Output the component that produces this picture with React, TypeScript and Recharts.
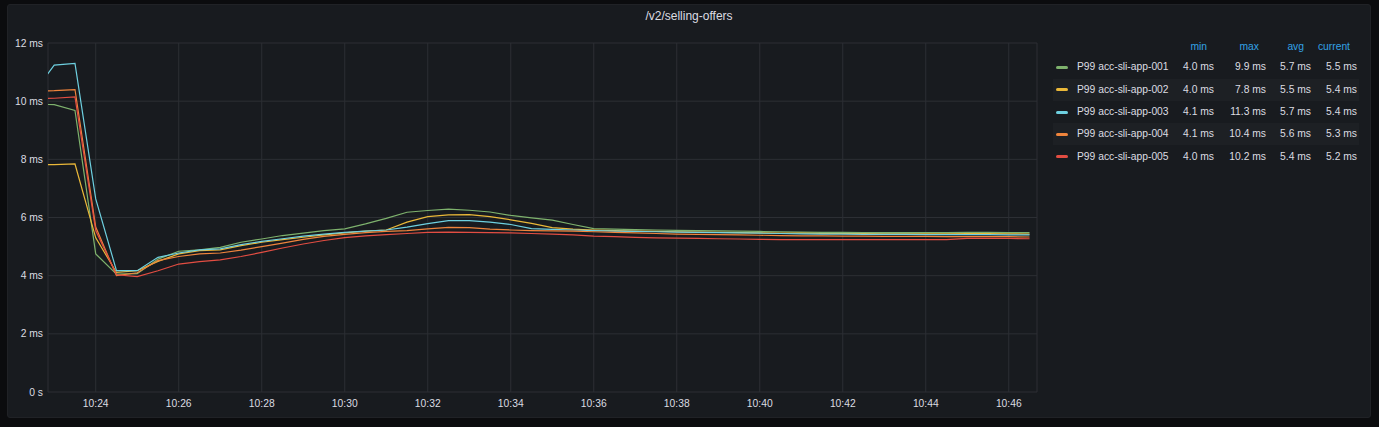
import React from 'react';
import { LineChart, Line, XAxis, YAxis, CartesianGrid } from 'recharts';

// sample times (every 30s)
const times = [
  '10:22:30', '10:23:00', '10:23:30', '10:24:00', '10:24:30', '10:25:00', '10:25:30',
  '10:26:00', '10:26:30', '10:27:00', '10:27:30', '10:28:00', '10:28:30', '10:29:00',
  '10:29:30', '10:30:00', '10:30:30', '10:31:00', '10:31:30', '10:32:00', '10:32:30',
  '10:33:00', '10:33:30', '10:34:00', '10:34:30', '10:35:00', '10:35:30', '10:36:00',
  '10:36:30', '10:37:00', '10:37:30', '10:38:00', '10:38:30', '10:39:00', '10:39:30',
  '10:40:00', '10:40:30', '10:41:00', '10:41:30', '10:42:00', '10:42:30', '10:43:00',
  '10:43:30', '10:44:00', '10:44:30', '10:45:00', '10:45:30', '10:46:00', '10:46:30',
];

const app001 = [
  9.9, 9.88, 9.68, 4.75, 4.05, 4.07, 4.57, 4.84, 4.89, 4.97, 5.15, 5.26, 5.38, 5.46,
  5.55, 5.61, 5.78, 5.97, 6.18, 6.24, 6.29, 6.25, 6.19, 6.07, 5.99, 5.91, 5.76, 5.62,
  5.6, 5.58, 5.57, 5.56, 5.55, 5.54, 5.53, 5.52, 5.51, 5.5, 5.49, 5.49, 5.48, 5.48,
  5.48, 5.48, 5.48, 5.49, 5.49, 5.48, 5.48,
];
const app002 = [
  7.82, 7.82, 7.84, 5.3, 4.11, 4.17, 4.49, 4.75, 4.86, 4.89, 5.03, 5.15, 5.24, 5.32,
  5.4, 5.47, 5.53, 5.57, 5.84, 6.03, 6.09, 6.1, 6.03, 5.92, 5.8, 5.65, 5.6, 5.57,
  5.55, 5.53, 5.52, 5.51, 5.5, 5.49, 5.48, 5.47, 5.46, 5.46, 5.45, 5.45, 5.45, 5.44,
  5.44, 5.44, 5.44, 5.45, 5.45, 5.44, 5.43,
];
const app003 = [
  10.27, 11.24, 11.3, 6.64, 4.17, 4.17, 4.63, 4.78, 4.89, 4.92, 5.07, 5.18, 5.27, 5.36,
  5.43, 5.49, 5.53, 5.57, 5.67, 5.79, 5.89, 5.89, 5.84, 5.76, 5.62, 5.59, 5.57, 5.55,
  5.53, 5.52, 5.51, 5.5, 5.49, 5.48, 5.47, 5.46, 5.45, 5.44, 5.43, 5.43, 5.42, 5.42,
  5.42, 5.41, 5.41, 5.41, 5.41, 5.4, 5.4,
];
const app004 = [
  10.35, 10.36, 10.4, 5.67, 4.0, 4.1, 4.52, 4.66, 4.75, 4.78, 4.88, 5.0, 5.12, 5.25,
  5.35, 5.42, 5.48, 5.52, 5.55, 5.61, 5.66, 5.65, 5.6, 5.57, 5.55, 5.54, 5.53, 5.51,
  5.49, 5.47, 5.45, 5.43, 5.42, 5.41, 5.4, 5.39, 5.38, 5.37, 5.37, 5.36, 5.36, 5.35,
  5.35, 5.35, 5.34, 5.34, 5.34, 5.34, 5.33,
];
const app005 = [
  10.08, 10.1, 10.15, 5.55, 4.03, 3.97, 4.17, 4.4, 4.48, 4.54, 4.66, 4.8, 4.95, 5.09,
  5.21, 5.31, 5.37, 5.41, 5.45, 5.49, 5.5, 5.49, 5.48, 5.47, 5.45, 5.43, 5.4, 5.36,
  5.34, 5.32, 5.3, 5.29, 5.28, 5.27, 5.26, 5.25, 5.24, 5.24, 5.24, 5.24, 5.24, 5.24,
  5.24, 5.24, 5.24, 5.28, 5.28, 5.28, 5.27,
];

const seriesNames = [
  'P99 acc-sli-app-001',
  'P99 acc-sli-app-002',
  'P99 acc-sli-app-003',
  'P99 acc-sli-app-004',
  'P99 acc-sli-app-005',
];
const seriesColors = ['#7EB26D', '#EAB839', '#6ED0E0', '#EF843C', '#E24D42'];

// legend stats as shown in the panel
const statHeaders = ['min', 'max', 'avg', 'current'];
const statMin = ['4.0 ms', '4.0 ms', '4.1 ms', '4.1 ms', '4.0 ms'];
const statMax = ['9.9 ms', '7.8 ms', '11.3 ms', '10.4 ms', '10.2 ms'];
const statAvg = ['5.7 ms', '5.5 ms', '5.7 ms', '5.6 ms', '5.4 ms'];
const statCurrent = ['5.5 ms', '5.4 ms', '5.4 ms', '5.3 ms', '5.2 ms'];

const xTicks = [24, 26, 28, 30, 32, 34, 36, 38, 40, 42, 44, 46];
const yTicks = [0, 2, 4, 6, 8, 10, 12];

const allSeries = [app001, app002, app003, app004, app005];

const toMinutes = (s: string) => {
  const [h, m, sec] = s.split(':').map(Number);
  return (h - 10) * 60 + m + sec / 60;
};

const data = times.map((t, i) => {
  const row: Record<string, number> = { t: toMinutes(t) };
  allSeries.forEach((s, k) => {
    row['s' + k] = s[i];
  });
  return row;
});

const FONT = '"Liberation Sans", Arial, sans-serif';
const TEXT = '#dcdde2';

const statCols = [statMin, statMax, statAvg, statCurrent];
const colRight = [1214, 1266, 1311, 1357];

const LegendTable = () => (
  <div style={{ position: 'absolute', left: 0, top: 0, fontFamily: FONT, fontSize: 10.3 }}>
    {statHeaders.map((h, c) => (
      <div
        key={h}
        style={{
          position: 'absolute',
          top: 40,
          left: colRight[c] - 7 - 60,
          width: 60,
          textAlign: 'right',
          color: '#33a2e5',
          lineHeight: '14px',
        }}
      >
        {h}
      </div>
    ))}
    {seriesNames.map((name, r) => {
      const cy = 67.3 + r * 22.35;
      return (
        <React.Fragment key={name}>
          {r % 2 === 1 && (
            <div
              style={{
                position: 'absolute',
                left: 1053,
                top: cy - 11,
                width: 306,
                height: 22,
                background: 'rgba(255,255,255,0.025)',
              }}
            />
          )}
          <div
            style={{
              position: 'absolute',
              left: 1056,
              top: cy - 1.5,
              width: 12,
              height: 3,
              borderRadius: 1.5,
              background: seriesColors[r],
            }}
          />
          <div
            style={{
              position: 'absolute',
              left: 1077,
              top: cy - 7,
              lineHeight: '14px',
              color: TEXT,
              whiteSpace: 'nowrap',
            }}
          >
            {name}
          </div>
          {statCols.map((col, c) => (
            <div
              key={c}
              style={{
                position: 'absolute',
                left: colRight[c] - 60,
                width: 60,
                top: cy - 7,
                lineHeight: '14px',
                textAlign: 'right',
                color: TEXT,
                whiteSpace: 'nowrap',
              }}
            >
              {col[r]}
            </div>
          ))}
        </React.Fragment>
      );
    })}
  </div>
);

const App = () => {
  return (
    <div
      style={{
        position: 'fixed',
        left: 0,
        top: 0,
        width: 1379,
        height: 427,
        background: '#0b0c0e',
        fontFamily: FONT,
        overflow: 'hidden',
      }}
    >
      <div
        style={{
          position: 'absolute',
          left: 7,
          top: 4,
          width: 1362,
          height: 412,
          background: '#181b1f',
          border: '1px solid #202226',
          borderRadius: 3,
        }}
      />
      <div
        style={{
          position: 'absolute',
          left: 7,
          width: 1364,
          top: 8,
          textAlign: 'center',
          color: TEXT,
          fontSize: 12,
          lineHeight: '16px',
        }}
      >
        /v2/selling-offers
      </div>
      <div style={{ position: 'absolute', left: 0, top: 0 }}>
        <LineChart
          width={1040}
          height={420}
          data={data}
          margin={{ top: 43, right: 3, bottom: 8, left: 0 }}
        >
          <CartesianGrid stroke="#2c2f34" strokeWidth={1} />
          <XAxis
            dataKey="t"
            type="number"
            domain={[22.85, 46.68]}
            allowDataOverflow
            ticks={xTicks}
            tickFormatter={(v: number) => `10:${String(v).padStart(2, '0')}`}
            axisLine={false}
            tickLine={false}
            tickSize={0}
            tickMargin={8}
            height={20}
            tick={{ fill: TEXT, fontSize: 10.3, fontFamily: FONT }}
          />
          <YAxis
            type="number"
            domain={[0, 12]}
            ticks={yTicks}
            tickFormatter={(v: number) => (v === 0 ? '0 s' : `${v} ms`)}
            axisLine={false}
            tickLine={false}
            tickSize={0}
            tickMargin={5}
            width={48}
            tick={{ fill: TEXT, fontSize: 10.3, fontFamily: FONT }}
          />
          {allSeries.map((_, k) => (
            <Line
              key={k}
              type="linear"
              dataKey={'s' + k}
              stroke={seriesColors[k]}
              strokeWidth={1.2}
              dot={false}
              activeDot={false}
              isAnimationActive={false}
            />
          ))}
        </LineChart>
      </div>
      <LegendTable />
    </div>
  );
};

export default App;
